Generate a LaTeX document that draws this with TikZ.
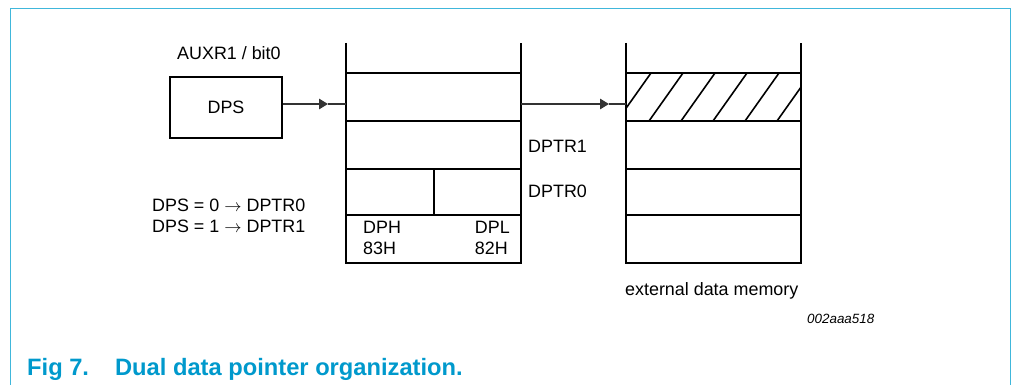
\documentclass[tikz,border=0pt]{standalone}
\usepackage{fontspec}
\setmainfont{Liberation Sans}
\usetikzlibrary{arrows.meta}
\definecolor{nxpframe}{RGB}{64,183,219}
\definecolor{nxpcap}{RGB}{0,153,204}

\tikzset{
	stackline/.style={black, line width=2pt},
	conn/.style={black!80, line width=1.2pt},
	tiparrow/.style={-{Triangle[length=9pt,width=10.5pt]}},
	lbl/.style={inner sep=0pt, font=\fontsize{17.9}{21}\selectfont},
}

\begin{document}
\begin{tikzpicture}[x=1pt,y=-1pt]
		\useasboundingbox (0,0) rectangle (1012,385);
		\draw[nxpframe, line width=1.3pt] (10.5,385) -- (10.5,8.5) -- (1010.5,8.5) -- (1010.5,385);
		
		\node[lbl, draw, line width=2pt, minimum width=112pt, minimum height=61pt] (dps) at (226,107.5) {DPS};
		\node[lbl, anchor=base west] (auxr) at (177,59.3) {AUXR1 / bit0};
		\node[lbl, anchor=base west] (map0) at (152,211.7) {DPS = 0 $\rightarrow$ DPTR0};
		\node[lbl, anchor=base west] (map1) at (152,232.7) {DPS = 1 $\rightarrow$ DPTR1};
		
		\begin{scope}[xshift=346pt]
		\draw[stackline] (0,43) -- (0,263) -- (175,263) -- (175,43);
		\foreach \yy in {73,121,169,215} \draw[stackline] (0,\yy) -- (175,\yy);
		\draw[stackline] (88,169) -- (88,215);
		\end{scope}
		\node[lbl, anchor=base west] (dph) at (363,233.5) {DPH};
		\node[lbl, anchor=base west] (dphaddr) at (363,254.5) {83H};
		\node[lbl, anchor=base east] (dpl) at (510,233.5) {DPL};
		\node[lbl, anchor=base east] (dpladdr) at (508,254.5) {82H};
		\node[lbl, anchor=base west] (dptrone) at (528,152.3) {DPTR1};
		\node[lbl, anchor=base west] (dptrzero) at (528,197.3) {DPTR0};
		
		\begin{scope}[xshift=626pt]
		\begin{scope}
		\clip (0,73) rectangle (175,121);
		\foreach \k in {-1,...,5} \draw[line width=1.6pt] (23+32*\k,121) -- ++(34,-48);
		\end{scope}
		\draw[stackline] (0,43) -- (0,263) -- (175,263) -- (175,43);
		\foreach \yy in {73,121,169,215} \draw[stackline] (0,\yy) -- (175,\yy);
		\end{scope}
		\node[lbl, anchor=base west] (extmem) at (625,295) {external data memory};
		\node[inner sep=0pt, anchor=base west, font=\fontsize{13.4}{16}\selectfont\itshape] (figid) at (807,323) {002aaa518};
		
		\coordinate (tipa) at (328,104);
		\coordinate (ptrin) at (346,104);
		\coordinate (ptrout) at (521,104);
		\coordinate (tipb) at (609,104);
		\coordinate (memin) at (626,104);
		\draw[conn, tiparrow] (dps.east |- tipa) -- (tipa);
		\draw[conn] (tipa) -- (ptrin);
		\draw[conn, tiparrow] (ptrout) -- (tipb);
		\draw[conn] (tipb) -- (memin);
		
		\node[inner sep=0pt, anchor=base west, text=nxpcap, font=\fontsize{23.7}{27}\selectfont\bfseries] (caption) at (27,375) {Fig 7.\hspace{26pt}Dual data pointer organization.};
\end{tikzpicture}
\end{document}
